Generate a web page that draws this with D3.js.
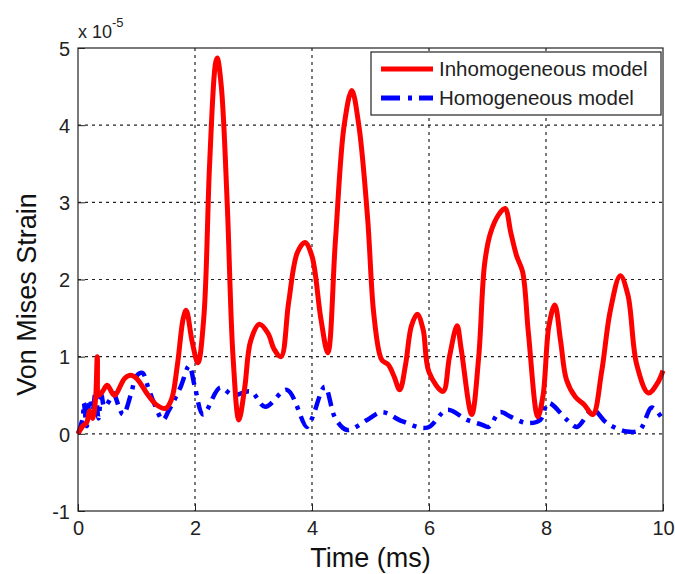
<!DOCTYPE html>
<html>
<head>
<meta charset="utf-8">
<script src="https://cdn.jsdelivr.net/npm/d3@7"></script>
<style>
  body { margin: 0; background: #fff; }
  svg { font-family: 'Liberation Sans', Arial, sans-serif; }
</style>
</head>
<body>
<div id="chart"></div>
<script>
// time in ms, strain in units of 1e-5
const inhomoT = [0, 0.08, 0.15, 0.2, 0.25, 0.3, 0.33, 0.36, 0.42, 0.5, 0.62, 0.8, 0.9, 1.0, 1.2, 1.35, 1.5, 1.6, 1.7, 1.8, 1.85, 1.95, 2.05, 2.15, 2.25, 2.35, 2.38, 2.45, 2.55, 2.65, 2.75, 2.85, 2.95, 3.1, 3.25, 3.35, 3.47, 3.6, 3.75, 3.88, 4.0, 4.15, 4.27, 4.4, 4.55, 4.68, 4.8, 4.95, 5.05, 5.15, 5.2, 5.3, 5.4, 5.5, 5.6, 5.7, 5.8, 5.9, 6.0, 6.24, 6.35, 6.48, 6.55, 6.73, 6.85, 6.95, 7.05, 7.2, 7.3, 7.4, 7.5, 7.6, 7.7, 7.86, 7.95, 8.05, 8.15, 8.25, 8.35, 8.5, 8.65, 8.8, 8.95, 9.1, 9.27, 9.4, 9.55, 9.75, 9.9, 10];
const inhomoV = [0, 0.1, 0.15, 0.3, 0.2, 0.45, 1.0, 0.5, 0.55, 0.63, 0.5, 0.72, 0.76, 0.72, 0.5, 0.37, 0.33, 0.45, 0.9, 1.5, 1.6, 1.2, 0.92, 1.5, 3.5, 4.8, 4.87, 4.5, 3.0, 1.0, 0.18, 0.6, 1.2, 1.42, 1.3, 1.1, 1.0, 1.7, 2.35, 2.48, 2.3, 1.5, 1.05, 2.5, 4.0, 4.45, 4.0, 2.8, 1.6, 1.05, 0.95, 0.9, 0.75, 0.57, 0.9, 1.4, 1.55, 1.35, 0.8, 0.55, 1.0, 1.4, 1.1, 0.25, 1.0, 2.2, 2.6, 2.85, 2.92, 2.6, 2.3, 2.1, 1.3, 0.22, 0.5, 1.4, 1.67, 1.2, 0.7, 0.48, 0.38, 0.25, 0.8, 1.6, 2.05, 1.8, 0.9, 0.53, 0.65, 0.82];

const homoT = [0, 0.08, 0.1, 0.15, 0.2, 0.25, 0.3, 0.35, 0.4, 0.45, 0.55, 0.6, 0.77, 0.9, 1.0, 1.1, 1.2, 1.3, 1.45, 1.55, 1.75, 1.9, 2.0, 2.14, 2.43, 2.65, 2.95, 3.2, 3.57, 3.91, 4.0, 4.22, 4.4, 4.6, 4.94, 5.2, 5.55, 5.97, 6.31, 6.65, 6.9, 7.02, 7.21, 7.4, 7.67, 7.9, 8.04, 8.36, 8.53, 8.8, 9.04, 9.38, 9.6, 9.81, 10];
const homoV = [0, 0.2, 0.4, 0.1, 0.45, 0.3, 0.55, 0.2, 0.5, 0.35, 0.45, 0.53, 0.25, 0.5, 0.75, 0.79, 0.6, 0.4, 0.18, 0.3, 0.6, 0.88, 0.6, 0.25, 0.6, 0.5, 0.55, 0.35, 0.57, 0.09, 0.2, 0.61, 0.2, 0.05, 0.18, 0.28, 0.16, 0.08, 0.31, 0.18, 0.12, 0.09, 0.28, 0.22, 0.14, 0.18, 0.4, 0.18, 0.09, 0.31, 0.14, 0.03, 0.05, 0.34, 0.18];

const xTicks = [0, 2, 4, 6, 8, 10];
const yTicks = [-1, 0, 1, 2, 3, 4, 5];
const seriesNames = ['Inhomogeneous model', 'Homogeneous model'];

const width = 675, height = 574;
const margin = { top: 48, right: 12, bottom: 63, left: 78 };
const font = "'Liberation Sans', Arial, sans-serif";

const svg = d3.select('#chart').append('svg')
  .attr('width', width).attr('height', height);

const x = d3.scaleLinear().domain([0, 10]).range([margin.left, width - margin.right]);
const y = d3.scaleLinear().domain([-1, 5]).range([height - margin.bottom, margin.top]);

// gridlines
const grid = svg.append('g').attr('stroke', '#222').attr('stroke-dasharray', '3,4').attr('stroke-width', 1.2);
grid.selectAll('.gx').data(xTicks.slice(1, -1)).join('line')
  .attr('x1', d => x(d)).attr('x2', d => x(d))
  .attr('y1', y(5)).attr('y2', y(-1));
grid.selectAll('.gy').data(yTicks.slice(1, -1)).join('line')
  .attr('x1', x(0)).attr('x2', x(10))
  .attr('y1', d => y(d)).attr('y2', d => y(d));

// lines
const line = d3.line().x(d => x(d[0])).y(d => y(d[1])).curve(d3.curveCatmullRom.alpha(0.5));
const plot = svg.append('g');
plot.append('path')
  .datum(homoT.map((t, i) => [t, homoV[i]]))
  .attr('d', line).attr('fill', 'none')
  .attr('stroke', '#0000ff').attr('stroke-width', 4.5)
  .attr('stroke-dasharray', '14,7,4,7');
plot.append('path')
  .datum(inhomoT.map((t, i) => [t, inhomoV[i]]))
  .attr('d', line).attr('fill', 'none')
  .attr('stroke', '#ff0000').attr('stroke-width', 5)
  .attr('stroke-linejoin', 'round');

// axes
const xAxis = d3.axisBottom(x).tickValues(xTicks).tickSize(-7).tickPadding(10).tickFormat(d => String(d));
const yAxis = d3.axisLeft(y).tickValues(yTicks).tickSize(-7).tickPadding(8).tickFormat(d => String(d));
const gx = svg.append('g').attr('transform', `translate(0,${y(-1)})`).call(xAxis);
const gy = svg.append('g').attr('transform', `translate(${x(0)},0)`).call(yAxis);
[gx, gy].forEach(g => {
  g.select('.domain').remove();
  g.selectAll('text').attr('font-size', 20).attr('fill', '#222').attr('font-family', font);
  g.selectAll('line').attr('stroke', '#222');
});
gy.selectAll('text').attr('dy', '0.36em');
gx.selectAll('text').attr('dy', '0.72em');

// box
svg.append('rect')
  .attr('x', x(0)).attr('y', y(5))
  .attr('width', x(10) - x(0)).attr('height', y(-1) - y(5))
  .attr('fill', 'none').attr('stroke', '#222').attr('stroke-width', 1.2);

// exponent
const exp = svg.append('text').attr('x', x(0)).attr('y', 38).attr('font-size', 18).attr('fill', '#222');
exp.append('tspan').text('x 10');
exp.append('tspan').attr('dy', -11).attr('font-size', 13).text('-5');

// axis labels
svg.append('text')
  .attr('x', (x(0) + x(10)) / 2).attr('y', 567)
  .attr('text-anchor', 'middle').attr('font-size', 27).attr('fill', '#111')
  .text('Time (ms)');
svg.append('text')
  .attr('transform', `translate(36,${(y(-1) + y(5)) / 2 + 15}) rotate(-90)`)
  .attr('text-anchor', 'middle').attr('font-size', 27).attr('fill', '#111')
  .text('Von Mises Strain');

// legend
const legend = svg.append('g');
legend.append('rect')
  .attr('x', 371).attr('y', 52).attr('width', 290).attr('height', 63)
  .attr('fill', '#fff').attr('stroke', '#222').attr('stroke-width', 1.2);
const legStyles = [
  { color: '#ff0000', dash: null },
  { color: '#0000ff', dash: '19,8,4,7' }
];
seriesNames.forEach((name, i) => {
  const ly = 69 + i * 29;
  legend.append('line')
    .attr('x1', 381).attr('x2', 433).attr('y1', ly).attr('y2', ly)
    .attr('stroke', legStyles[i].color).attr('stroke-width', 5)
    .attr('stroke-dasharray', legStyles[i].dash);
  legend.append('text')
    .attr('x', 439).attr('y', ly).attr('dy', '0.36em')
    .attr('font-size', 20.5).attr('fill', '#222')
    .text(name);
});
</script>
</body>
</html>
